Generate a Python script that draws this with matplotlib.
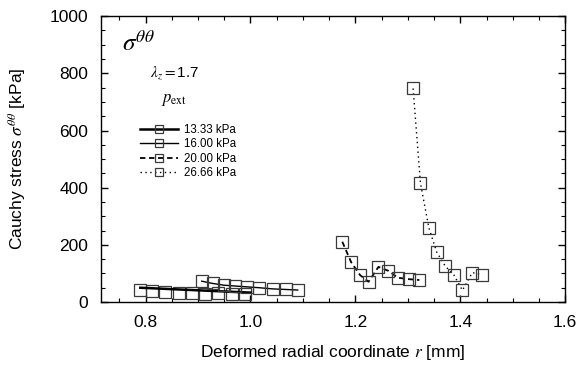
import matplotlib
matplotlib.use("Agg")
import matplotlib.pyplot as plt
from matplotlib.ticker import MultipleLocator

plt.rcParams['font.family'] = ['Liberation Sans', 'DejaVu Sans']
plt.rcParams['mathtext.fontset'] = 'stix'

# Data
r_13 = [0.790, 0.812, 0.838, 0.863, 0.888, 0.914, 0.938, 0.964, 0.989]
s_13 = [43, 38, 35, 31, 31, 29, 32, 27, 27]
r_13_line = [0.790, 0.900, 1.000]
s_13_line = [50, 41, 33]

r_16 = [0.907, 0.928, 0.949, 0.971, 0.994, 1.017, 1.042, 1.067, 1.090]
s_16 = [73, 65, 59, 56, 53, 50, 46, 44, 42]

r_20 = [1.175, 1.192, 1.209, 1.225, 1.244, 1.263, 1.281, 1.302, 1.322]
s_20 = [211, 139, 94, 71, 123, 109, 85, 80, 77]

r_26 = [1.310, 1.324, 1.340, 1.355, 1.371, 1.388, 1.404, 1.423, 1.442]
s_26 = [747, 416, 260, 175, 126, 94, 41, 103, 95]

labels = ['13.33 kPa', '16.00 kPa', '20.00 kPa', '26.66 kPa']

fig = plt.figure(figsize=(5.76, 3.67), dpi=100)
ax = fig.add_axes([0.1753, 0.177, 0.806, 0.779])

mk = dict(marker='s', markersize=8, markerfacecolor='none',
          markeredgecolor='#3a3a3a', markeredgewidth=0.9)

# series 1: markers + model line
ax.plot(r_13, s_13, linestyle='none', **mk)
ax.plot(r_13_line, s_13_line, color='black', lw=1.8)
ax.plot([], [], color='black', lw=1.8, label=labels[0], **mk)
ax.plot(r_16, s_16, color='black', lw=1.0, label=labels[1], **mk)
ax.plot(r_20, s_20, color='black', lw=1.3, ls=(0, (3, 2)), label=labels[2], **mk)
ax.plot(r_26, s_26, color='black', lw=1.0, ls=(0, (1, 2.5)), label=labels[3], **mk)

ax.set_xlim(0.715, 1.6)
ax.set_ylim(0, 1000)
ax.xaxis.set_major_locator(MultipleLocator(0.2))
ax.xaxis.set_minor_locator(MultipleLocator(0.05))
ax.yaxis.set_major_locator(MultipleLocator(200))
ax.yaxis.set_minor_locator(MultipleLocator(50))
ax.xaxis.set_major_formatter(matplotlib.ticker.FormatStrFormatter('%.1f'))
ax.tick_params(which='both', direction='in', top=True, right=True, labelsize=12.5)
ax.tick_params(axis='x', which='major', pad=9)
ax.tick_params(axis='y', which='major', pad=9)
ax.tick_params(which='major', length=5, width=1)
ax.tick_params(which='minor', length=3, width=0.8)
for s in ax.spines.values():
    s.set_linewidth(1.0)

ax.set_xlabel(r'Deformed radial coordinate $r$ [mm]', fontsize=12.5, labelpad=10)
ax.set_ylabel(r'Cauchy stress $\sigma^{\theta\theta}$ [kPa]', fontsize=12.5, labelpad=16)

ax.text(0.045, 0.88, r'$\sigma^{\theta\theta}$', transform=ax.transAxes, fontsize=18)
ax.text(0.105, 0.79, r'$\lambda_z = $1.7', transform=ax.transAxes, fontsize=11)
ax.text(0.130, 0.70, r'$p_{\rm ext}$', transform=ax.transAxes, fontsize=12)

leg = ax.legend(loc='upper left', bbox_to_anchor=(0.075, 0.64), frameon=False,
                fontsize=8.3, handlelength=3.3, handletextpad=0.5, labelspacing=0.22,
                borderaxespad=0, markerscale=0.8)

fig.savefig('out.png', dpi=100)
